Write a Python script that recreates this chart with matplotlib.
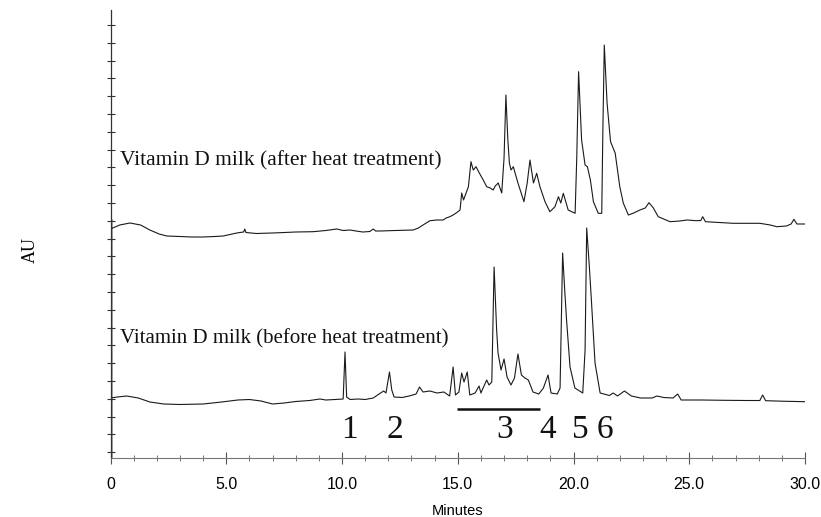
import numpy as np
import matplotlib
matplotlib.use("Agg")
import matplotlib.pyplot as plt

# ---------------- data (minutes, arbitrary absorbance units) ----------------
t_before = [0.0, 0.3, 0.7, 1.2, 1.7, 2.3, 3.0, 4.0, 4.8, 5.5, 6.0, 6.5, 7.0, 7.5, 8.0,
            8.6, 9.05, 9.3, 9.7, 10.05, 10.13, 10.2, 10.35, 10.7, 11.0, 11.35, 11.6,
            11.8, 11.9, 12.05, 12.15, 12.25, 12.6, 12.9, 13.2, 13.35, 13.5, 13.8, 14.1,
            14.4, 14.65, 14.8, 14.9, 15.05, 15.17, 15.27, 15.41, 15.52, 15.75, 15.92,
            16.0, 16.25, 16.35, 16.47, 16.57, 16.68, 16.74, 16.87, 17.0, 17.13, 17.3,
            17.45, 17.6, 17.75, 17.9, 18.05, 18.25, 18.5, 18.7, 18.9, 19.03, 19.3,
            19.42, 19.53, 19.62, 19.7, 19.85, 20.06, 20.4, 20.5, 20.57, 20.68, 20.78,
            20.93, 21.15, 21.55, 21.72, 21.9, 22.2, 22.5, 22.9, 23.4, 23.6, 23.9, 24.3,
            24.5, 24.65, 25.5, 26.5, 27.5, 28.05, 28.17, 28.3, 29.0, 30.0]
au_before = [60, 61, 62, 60, 56, 54, 53.5, 54, 56, 58, 58.5, 57, 54, 55, 56.5,
             57.5, 59, 58, 58.5, 59, 106, 61, 58.5, 59, 58.5, 60, 64,
             67, 65, 86, 68, 61, 60.5, 62, 64, 71, 66, 67, 65,
             66, 62, 91, 63, 66, 85, 76, 86, 63, 65, 72,
             65, 78, 73, 76, 191, 128, 105, 88, 99, 81, 73,
             80, 104, 83, 80, 78, 66, 64, 70, 83, 65, 64,
             70, 205, 168, 138, 91, 70, 65, 108, 230, 193, 155,
             95, 65, 62.5, 65, 62, 67, 62, 60, 60, 62, 60.5, 60,
             64, 58, 58, 57.7, 57.5, 57.5, 63, 57.3, 56.8, 56.3]

t_after = [0.0, 0.4, 0.84, 1.3, 1.7, 2.1, 2.43, 3.0, 3.5, 4.0, 4.5, 4.87, 5.45, 5.75,
           5.8, 5.85, 6.3, 7.0, 7.32, 8.0, 8.75, 9.3, 9.77, 10.05, 10.35, 10.6, 10.9,
           11.2, 11.35, 11.45, 11.64, 12.3, 13.07, 13.3, 13.5, 13.8, 14.1, 14.37, 14.5,
           14.66, 14.8, 14.95, 15.1, 15.17, 15.25, 15.46, 15.57, 15.67, 15.79, 15.9,
           16.1, 16.25, 16.4, 16.53, 16.62, 16.75, 16.9, 17.0, 17.08, 17.16, 17.23,
           17.3, 17.4, 17.6, 17.86, 18.0, 18.12, 18.27, 18.41, 18.55, 18.77, 18.98,
           19.2, 19.35, 19.45, 19.56, 19.77, 20.07, 20.14, 20.22, 20.35, 20.5, 20.6,
           20.73, 20.86, 21.07, 21.22, 21.27, 21.33, 21.45, 21.6, 21.8, 22.0, 22.15,
           22.37, 22.6, 22.87, 23.1, 23.26, 23.45, 23.66, 24.17, 24.6, 24.9, 25.3,
           25.5, 25.58, 25.7, 26.3, 26.9, 28.05, 28.5, 28.78, 29.2, 29.4, 29.52,
           29.65, 30.0]
au_after = [229, 233, 235, 233, 228, 224, 222, 221.5, 221, 221, 221.5, 222, 225, 226,
            229, 225.5, 224.5, 225, 225.3, 226, 226.3, 227.5, 229, 227.5, 228, 227, 226,
            226.5, 229, 227, 227, 227.5, 228, 230, 233, 237.3, 238, 238, 240,
            241.3, 243, 245.3, 248, 265, 258, 271.3, 296.3, 288, 291.3, 286.3,
            278, 271.3, 270, 268, 272, 275, 265, 300, 363, 320, 295,
            288, 291.3, 275, 256.3, 275, 298, 275, 284.7, 271.3, 256.3, 246.3,
            251.3, 261.3, 255, 264.7, 248, 244.7, 300, 386.3, 318, 293, 291.3,
            278, 256.3, 244.7, 244.7, 330, 413, 355, 316.3, 305, 271.3, 255,
            243, 245, 248, 250, 255.3, 250, 241.3, 236.3, 237, 238, 237.3,
            237.5, 241.3, 236.3, 235.5, 234.7, 234.7, 233, 231.3, 232, 234, 238.7,
            234, 234]

label_after = "Vitamin D milk (after heat treatment)"
label_before = "Vitamin D milk (before heat treatment)"
peak_labels = ["1", "2", "3", "4", "5", "6"]
peak_label_t = [10.34, 12.29, 17.04, 18.9, 20.28, 21.36]
group3_span = [14.98, 18.55]
x_ticks = [0, 5, 10, 15, 20, 25, 30]
x_ticklabels = ["0", "5.0", "10.0", "15.0", "20.0", "25.0", "30.0"]

# ---------------- figure ----------------
W, H = 821, 517
fig = plt.figure(figsize=(W / 100, H / 100), dpi=100)
ax = fig.add_axes([110.5 / W, 1 - 458 / H, (805 - 110.5) / W, (458 - 10) / H])

line_col = "#1a1a1a"
ax.plot(t_after, au_after, color=line_col, lw=0.8)
ax.plot(t_before, au_before, color=line_col, lw=0.8)

ax.set_xlim(0, 30)
ax.set_ylim(0, 448)

serif = ["Liberation Serif", "DejaVu Serif"]
sans = ["Liberation Sans", "DejaVu Sans"]

ax.text(0.41, 293, label_after, family=serif, fontsize=15.4, va="baseline", ha="left",
        color="#111111")
ax.text(0.41, 115, label_before, family=serif, fontsize=15.0, va="baseline", ha="left",
        color="#111111")
for lab, tx in zip(peak_labels, peak_label_t):
    ax.text(tx, 20, lab, family=serif, fontsize=24, va="baseline", ha="center",
            color="#111111")
ax.plot(group3_span, [49, 49], color="#111111", lw=1.8, solid_capstyle="butt")

# spines
for s in ("top", "right"):
    ax.spines[s].set_visible(False)
ax.spines["bottom"].set_color("#777777")
ax.spines["bottom"].set_linewidth(0.8)
ax.spines["left"].set_color("#333333")
ax.spines["left"].set_linewidth(0.9)
# second gray rail on the lower part of the y axis
ax.plot([0.06, 0.06], [0, 238], color="#aaaaaa", lw=1.4, zorder=1, clip_on=False)

ax.set_xticks(x_ticks)
ax.set_xticklabels(x_ticklabels, family=sans, fontsize=11.5)
ax.set_xticks(np.arange(0, 31, 1), minor=True)
ax.tick_params(axis="x", which="major", direction="inout", length=8, width=0.8,
               color="#555555", pad=9.5)
ax.tick_params(axis="x", which="minor", direction="inout", length=5, width=0.7,
               color="#777777")

ax.set_yticks(np.arange(433, 0, -17.8))
ax.set_yticklabels([])
ax.tick_params(axis="y", which="major", direction="inout", length=6, width=0.8,
               color="#333333")

ax.set_xlabel("Minutes", family=sans, fontsize=10.5, labelpad=9)
fig.text(30 / W, 1 - 250 / H, "AU", family=serif, fontsize=13, rotation=90,
         ha="center", va="center")

fig.savefig("out.png", dpi=100, facecolor="white")
